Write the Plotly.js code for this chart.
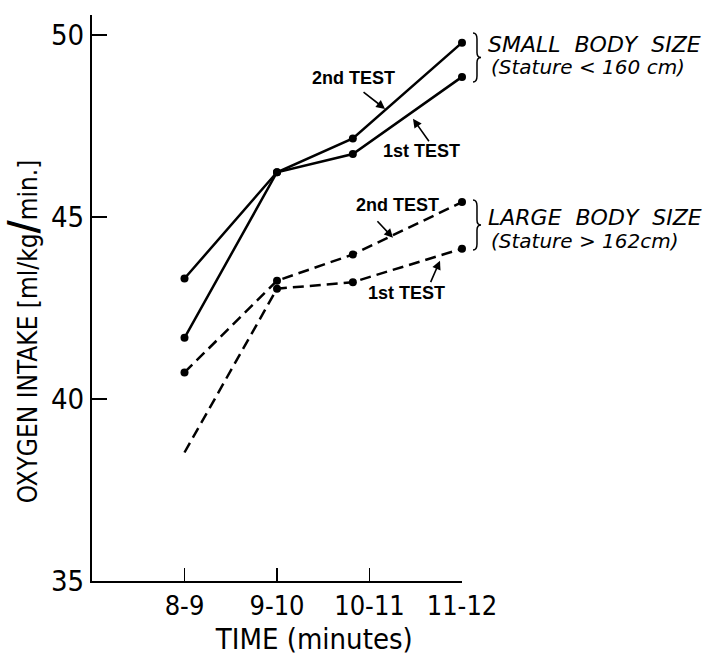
<!DOCTYPE html>
<html>
<head>
<meta charset="utf-8">
<script src="https://cdn.plot.ly/plotly-3.0.1.min.js"></script>
<style>html,body{margin:0;padding:0;background:#fff;}</style>
</head>
<body>
<div id="chart" style="width:707px;height:662px;"></div>
<script>
// ---- data ----
const timeLabels = ["8-9", "9-10", "10-11", "11-12"];
const timeTicks = [1, 2, 3, 4];
const timePos = [1, 2, 2.82, 4];          // where the points were plotted along the time axis
const smallSecond = [43.31, 46.23, 47.16, 49.79];
const smallFirst  = [41.68, 46.23, 46.73, 48.85];
const largeSecond = [40.73, 43.25, 43.97, 45.41];
const largeFirst  = [38.53, 43.03, 43.21, 44.13];
const yTicks = [35, 40, 45, 50];

const NARROW = "DejaVu Sans Condensed, Liberation Sans, sans-serif";
const SANS = "Liberation Sans, Arial, sans-serif";
const ITAL = "DejaVu Sans, sans-serif";

const solid = {color: "#000", width: 2.5};
const dashed = {color: "#000", width: 2.5, dash: "11px,6px"};
const dot = {color: "#000", size: 8, line: {width: 0}};

const traces = [
  {x: timePos, y: smallSecond, mode: "lines+markers", line: solid, marker: dot, cliponaxis: false, name: "Small 2nd"},
  {x: timePos, y: smallFirst, mode: "lines+markers", line: solid, marker: dot, cliponaxis: false, name: "Small 1st"},
  {x: timePos, y: largeSecond, mode: "lines+markers", line: dashed, marker: dot, cliponaxis: false, name: "Large 2nd"},
  {x: timePos, y: largeFirst, mode: "lines+markers", line: dashed, cliponaxis: false,
   marker: {size: 8, line: {width: 0},
            color: largeFirst.map((v, i) => i === 0 ? "rgba(0,0,0,0)" : "#000")}, name: "Large 1st"}
];

// plot-area geometry (pixels) for placing decorations
const M = {l: 92, r: 245, t: 15, b: 81};
const W = 707, H = 662;
const pw = W - M.l - M.r, ph = H - M.t - M.b;
const px = x => (x - M.l) / pw;
const py = y => (H - M.b - y) / ph;

function brace(x, t, b) {
  const m = (t + b) / 2;
  const P = (a, c) => px(a).toFixed(4) + "," + py(c).toFixed(4);
  return "M" + P(x, t) + " Q" + P(x + 4, t) + " " + P(x + 4, t + 6) +
         " L" + P(x + 4, m - 5) + " Q" + P(x + 4, m) + " " + P(x + 8, m) +
         " Q" + P(x + 4, m) + " " + P(x + 4, m + 5) +
         " L" + P(x + 4, b - 6) + " Q" + P(x + 4, b) + " " + P(x, b);
}

const testFont = {family: SANS, size: 18, color: "#000", weight: "bold"};
const groupFont = {family: ITAL, size: 22, color: "#000"};
const statFont = {family: ITAL, size: 20, color: "#000"};

function label(text, x, y) {
  return {text: text, x: x, y: y, xref: "x", yref: "y", showarrow: false, font: testFont};
}
function arrow(x, y, ax, ay) {
  return {text: "", x: x, y: y, xref: "x", yref: "y", ax: ax, ay: ay, showarrow: true,
          arrowhead: 2, arrowsize: 1.1, arrowwidth: 1.6, arrowcolor: "#000"};
}
function group(text, x, y, font) {
  return {text: text, x: px(x), y: py(y), xref: "paper", yref: "paper", xanchor: "left",
          yanchor: "middle", showarrow: false, font: font};
}

const annotations = [
  label("2nd TEST", 2.832, 48.82),
  label("1st TEST", 3.557, 46.82),
  label("2nd TEST", 3.308, 45.34),
  label("1st TEST", 3.395, 42.92),
  arrow(3.168, 47.97, -23, -18),
  arrow(3.470, 47.70, 17, 24),
  arrow(3.254, 44.43, -17, -18),
  arrow(3.762, 43.80, -10, 23),
  group("<i>SMALL  BODY  SIZE</i>", 486, 44, groupFont),
  group("<i>(Stature < 160 cm)</i>", 489, 67, statFont),
  group("<i>LARGE  BODY  SIZE</i>", 486, 217, groupFont),
  group("<i>(Stature > 162cm)</i>", 489, 241, statFont)
];

const shapes = [
  {type: "path", xref: "paper", yref: "paper", path: brace(473, 33, 82), line: {color: "#000", width: 1.5}},
  {type: "path", xref: "paper", yref: "paper", path: brace(473, 200, 250), line: {color: "#000", width: 1.5}}
];

const pad = n => "&nbsp;".repeat(n);

const layout = {
  width: W, height: H,
  margin: M,
  paper_bgcolor: "#fff", plot_bgcolor: "#fff",
  showlegend: false,
  xaxis: {
    range: [0, 4], tickvals: timeTicks, ticktext: timeLabels,
    ticks: "inside", ticklen: 13, tickwidth: 1.5, tickcolor: "#000",
    showline: true, linewidth: 2, linecolor: "#000", showgrid: false, zeroline: false,
    tickfont: {family: NARROW, size: 27, color: "#000"},
    title: {text: pad(9) + "TIME (minutes)", font: {family: NARROW, size: 29, color: "#000"}, standoff: 8}
  },
  yaxis: {
    range: [35, 50.55], tickvals: yTicks,
    ticks: "inside", ticklen: 15, tickwidth: 1.5, tickcolor: "#000",
    showline: true, linewidth: 2, linecolor: "#000", showgrid: false, zeroline: false,
    tickfont: {family: NARROW, size: 29, color: "#000"},
    title: {text: "OXYGEN INTAKE [ml/kg<b style=\"font-size:40px\">/</b>min.]" + pad(9),
            font: {family: NARROW, size: 26, color: "#000"}, standoff: 6}
  },
  annotations: annotations,
  shapes: shapes
};

Plotly.newPlot("chart", traces, layout, {displayModeBar: false, staticPlot: true});
</script>
</body>
</html>
